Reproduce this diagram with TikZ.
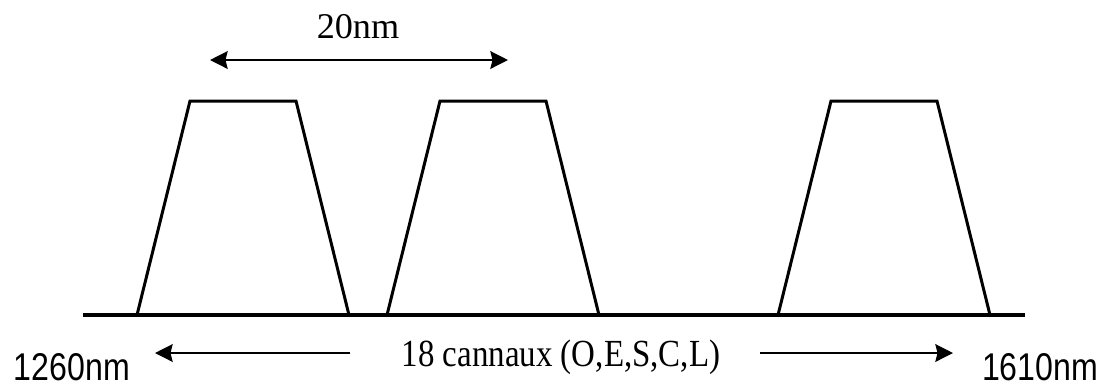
\documentclass[tikz,border=0pt]{standalone}
\usepackage{fontspec}
\setmainfont{Liberation Serif}
\newfontfamily\labelfont{Liberation Sans}
\usetikzlibrary{arrows.meta, positioning}

\begin{document}
\begin{tikzpicture}[x=0.01cm, y=-0.01cm,
        >={Stealth[length=5pt, width=5pt, inset=0.6pt]},
        axis/.style={line width=1pt},
        band/.style={line width=0.85pt, line join=miter},
        span/.style={line width=0.7pt},
        ends/.style={font=\fontsize{11}{12}\selectfont\labelfont, inner sep=0pt}]
    \useasboundingbox (0,0) rectangle (1112,387);
%
    \coordinate (axl) at (83,315);
    \coordinate (axr) at (1025,315);
    \draw[axis] (axl) -- (axr);
%   canaux
    \foreach \x in {137, 387, 778} {
        \draw[band] (\x,315) -- ++(53,-214) -- ++(106,0) -- ++(53,214);
    }
%
    \node[font=\fontsize{10.3}{12}\selectfont, inner sep=0pt] (spacing) at (358,27) {20nm};
    \coordinate (spl) at (210,60);
    \coordinate (spr) at (508,60);
    \draw[span, <->] (spl) -- (spr);
%
    \node[font=\fontsize{10.9}{12}\selectfont, inner sep=0pt] (count) at (561,357) {\scalebox{0.86}[1]{18 cannaux (O,E,S,C,L)}};
    \node[ends] (lo) at (72,367) {\scalebox{0.83}[1]{1260nm}};
    \node[ends] (hi) at (1040,367) {\scalebox{0.83}[1]{1610nm}};
    \coordinate (lt) at (350,353);
    \coordinate (lh) at (155,353);
    \coordinate (rt) at (760,353);
    \coordinate (rh) at (953,353);
    \path[span, ->]
        (lt) edge (lh)
        (rt) edge (rh);
\end{tikzpicture}
\end{document}
